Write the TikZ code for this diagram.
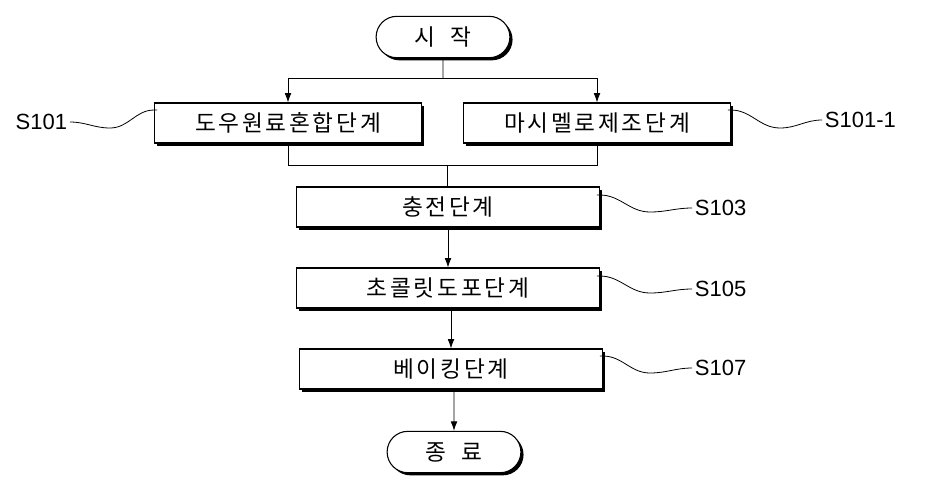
\documentclass[tikz,border=0pt]{standalone}
\usepackage{fontspec}
\setmainfont{Liberation Sans}
\newfontfamily\kr[LetterSpace=12]{Noto Sans CJK KR}
\usetikzlibrary{shapes.misc,shadows,arrows.meta}
\tikzset{
  stage/.style={draw,fill=white,line width=0.8pt,minimum height=30pt,
    drop shadow={shadow xshift=2pt,shadow yshift=-2pt,fill=black,opacity=1},
    font=\kr\fontsize{17}{17}\selectfont},
  term/.style={stage,rounded rectangle,minimum width=107pt,minimum height=31pt},
  lbl/.style={font=\fontsize{16.5}{16.5}\selectfont},
  line/.style={line width=0.6pt},
  arr/.style={line,-{Latex[length=7pt,width=5pt]}}
}
\begin{document}
\begin{tikzpicture}[x=0.75pt,y=-0.75pt]
\useasboundingbox (0,0) rectangle (928,487);
\node[term] (start) at (443,37) {시 \ 작};
\node[stage,minimum width=200pt] (s101) at (288,123) {도우원료혼합단계};
\node[stage,minimum width=200pt] (s1011) at (597,123) {마시멜로제조단계};
\node[stage,minimum width=227pt] (s103) at (448,207) {충전단계};
\node[stage,minimum width=227pt] (s105) at (448,288) {초콜릿도포단계};
\node[stage,minimum width=227pt] (s107) at (451,369) {베이킹단계};
\node[term] (end) at (454,452) {종 \ 료};
% labels
\node[lbl,anchor=east,inner sep=2pt] (l101) at (70,122) {S101};
\node[lbl,anchor=west,inner sep=2pt] (l1011) at (822,120) {S101-1};
\node[lbl,anchor=west,inner sep=2pt] (l103) at (692,208) {S103};
\node[lbl,anchor=west,inner sep=2pt] (l105) at (692,289) {S105};
\node[lbl,anchor=west,inner sep=2pt] (l107) at (692,368) {S107};
% connectors
\coordinate (split) at (443,78);
\coordinate (merge) at (447,165);
\draw[line] (start) -- (split);
\draw[arr] (split) -| (s101);
\draw[arr] (split) -| (s1011);
\draw[line] (s101) |- (merge);
\draw[line] (s1011) |- (merge);
\draw[line] (merge) -- (s103.north -| merge);
\draw[arr] (s103.south -| s105) -- (s105);
\draw[arr] (s105.south -| s107) -- (s107);
\draw[arr] (s107.south -| end) -- (end);
% leader waves
\draw[line] (l101.east) to[out=0,in=180] (110,128) to[out=0,in=180] (s101.west |- 0,110) -- ++(3,0);
\draw[line] (l1011.west) to[out=180,in=0] (780,128) to[out=180,in=0] (s1011.east |- 0,110) -- ++(-3,0);
\foreach \n/\y in {103/207,105/288,107/368}
  \draw[line] (l\n.west) to[out=180,in=0] (650,\y+5) to[out=180,in=0] (s\n.east |- 0,\y-12) -- ++(-3,0);
\end{tikzpicture}
\end{document}
